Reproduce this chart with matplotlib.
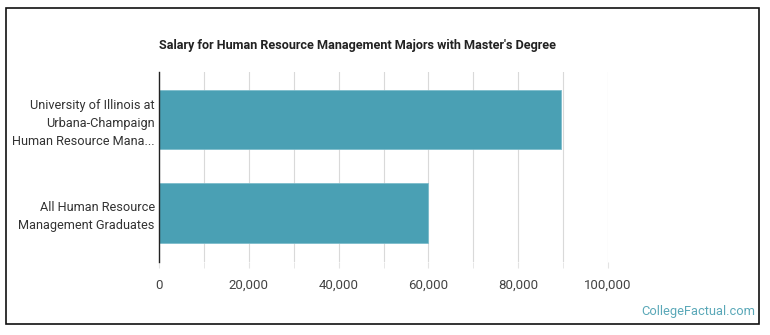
import matplotlib.pyplot as plt
from matplotlib.patches import Rectangle
from matplotlib.ticker import FuncFormatter, MultipleLocator

plt.rcParams['font.family'] = ['Roboto', 'DejaVu Sans']

# data
labels = ['University of Illinois at\nUrbana-Champaign\nHuman Resource Mana...',
          'All Human Resource\nManagement Graduates']
salaries = [89500, 60000]
title = "Salary for Human Resource Management Majors with Master's Degree"

fig = plt.figure(figsize=(7.7, 3.35), dpi=100)
ax = fig.add_axes([159 / 770, 1 - 262 / 335, 449 / 770, 190 / 335])

ax.barh(range(len(salaries)), salaries, height=0.64, color='#4aa0b4',
        edgecolor='#7dbccb', linewidth=0.6, zorder=3)

ax.set_xlim(0, 100000)
ax.set_ylim(1.527, -0.511)
ax.xaxis.set_major_locator(MultipleLocator(20000))
ax.xaxis.set_minor_locator(MultipleLocator(10000))
ax.xaxis.set_major_formatter(FuncFormatter(lambda v, p: f'{int(v):,}'))
ax.grid(axis='x', which='both', color='#d9d9d9', linewidth=0.8, zorder=0)
ax.tick_params(axis='x', which='both', length=4, color='#e3e3e3',
               labelsize=9.5, labelcolor='#444444', pad=8)
ax.tick_params(axis='y', length=0, labelsize=9.2, labelcolor='#333333', pad=3)
ax.set_yticks(range(len(labels)))
ax.set_yticklabels(labels, linespacing=1.5)

for s in ['top', 'right', 'bottom']:
    ax.spines[s].set_visible(False)
ax.spines['left'].set_color('#222222')
ax.spines['left'].set_linewidth(1.0)
ax.spines['left'].set_zorder(4)

fig.text(159 / 770, 1 - 45 / 335, title, fontsize=9.1, fontweight='bold',
         color='#222222', va='center', ha='left')
fig.text(755 / 770, 1 - 312 / 335, 'CollegeFactual.com', fontsize=9.3,
         color='#5aa8b8', ha='right', va='center')

fig.patches.append(Rectangle((6 / 770, 11 / 335), 753 / 770, 316 / 335,
                             transform=fig.transFigure, fill=False,
                             edgecolor='#111111', linewidth=1.2))

fig.savefig('out.png', dpi=100)
